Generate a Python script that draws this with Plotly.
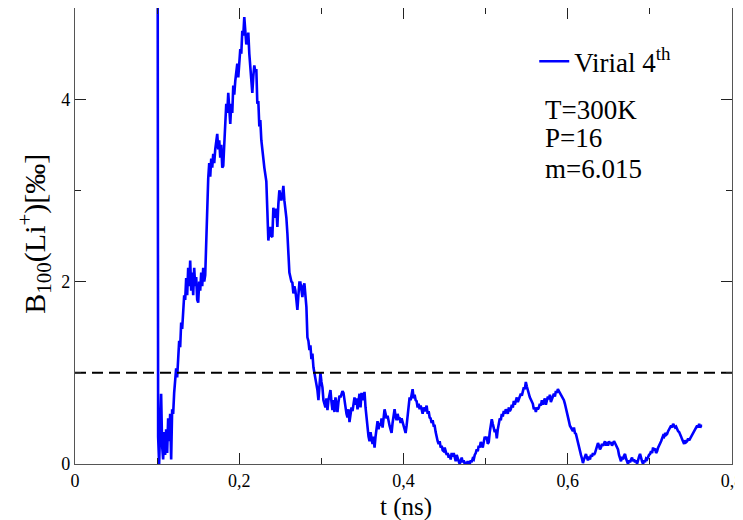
import plotly.graph_objects as go

# Time series: B100(Li+) sampled uniformly from t0 with step dt (ns)
t0 = 0.1
dt = 0.00122
b100 = [
    12.0, 0.3, 0.0, 0.45, 0.77, 0.2, 0.05, 0.35, 0.1, 0.38, 0.12, 0.5, 0.25, 0.55, 0.05,
    0.6, 0.55, 0.78, 0.9, 1.05, 0.95, 1.22, 1.35, 1.28, 1.55, 1.48, 1.72, 1.85, 1.8, 2.04,
    1.85, 2.15, 1.95, 2.23, 1.9, 2.1, 1.85, 2.15, 1.95, 2.05, 1.8, 1.77, 2.0, 1.9, 2.1,
    1.95, 2.15, 2.0, 2.07, 2.45, 2.9, 3.13, 3.3, 3.15, 3.35, 3.25, 3.4, 3.3, 3.45, 3.55,
    3.62, 3.45, 3.55, 3.36, 3.5, 3.25, 3.27, 3.5, 3.8, 3.95, 3.85, 4.07, 3.9, 3.73, 3.95,
    3.85, 4.15, 4.05, 4.2, 4.3, 4.39, 4.24, 4.45, 4.55, 4.5, 4.75, 4.7, 4.9, 4.75, 4.6,
    4.65, 4.73, 4.5, 4.35, 4.2, 4.07, 4.25, 4.37, 4.3, 4.33, 3.95, 3.98, 3.7, 3.77, 3.55,
    3.4, 3.35, 3.25, 3.15, 3.1, 2.78, 2.45, 2.55, 2.6, 2.5, 2.49, 2.81, 2.75, 2.7, 2.8,
    2.6, 2.85, 3.0, 2.95, 2.89, 2.95, 3.05, 2.89, 2.8, 2.7, 2.53, 2.23, 2.1, 2.05, 2.0,
    1.99, 1.87, 1.95, 1.9, 1.8, 1.69, 1.85, 1.99, 1.99, 1.9, 1.83, 1.95, 1.98, 1.85, 1.72,
    1.39, 1.35, 1.25, 1.3, 1.15, 1.21, 1.06, 1.0, 0.95, 0.88, 0.81, 0.7, 0.85, 1.0, 0.9,
    0.84, 0.7, 0.65, 0.62, 0.72, 0.59, 0.7, 0.75, 0.81, 0.68, 0.59, 0.7, 0.57, 0.73, 0.65,
    0.57, 0.68, 0.75, 0.73, 0.78, 0.8, 0.78, 0.68, 0.62, 0.55, 0.51, 0.6, 0.46, 0.55, 0.62,
    0.58, 0.7, 0.73, 0.65, 0.72, 0.6, 0.7, 0.77, 0.62, 0.78, 0.7, 0.75, 0.79, 0.62, 0.5,
    0.4, 0.3, 0.25, 0.35, 0.28, 0.22, 0.3, 0.18, 0.3, 0.38, 0.47, 0.38, 0.45, 0.42, 0.5,
    0.4, 0.52, 0.6, 0.55, 0.5, 0.53, 0.45, 0.42, 0.38, 0.34, 0.45, 0.55, 0.6, 0.52, 0.48,
    0.55, 0.5, 0.51, 0.45, 0.5, 0.46, 0.4, 0.38, 0.34, 0.42, 0.55, 0.65, 0.73, 0.7, 0.75,
    0.82, 0.72, 0.76, 0.7, 0.69, 0.62, 0.66, 0.6, 0.64, 0.6, 0.55, 0.62, 0.58, 0.6, 0.64,
    0.55, 0.58, 0.51, 0.5, 0.45, 0.48, 0.42, 0.42, 0.35, 0.28, 0.25, 0.22, 0.25, 0.18, 0.2,
    0.15, 0.14, 0.18, 0.12, 0.1, 0.12, 0.07, 0.1, 0.05, 0.12, 0.08, 0.12, 0.05, 0.03, 0.1,
    0.05, 0.03, 0.0, 0.05, 0.07, 0.02, 0.04, 0.0, 0.02, 0.0, 0.03, 0.0, 0.0, 0.04, 0.02,
    0.06, 0.05, 0.1, 0.12, 0.16, 0.14, 0.2, 0.18, 0.24, 0.22, 0.18, 0.25, 0.3, 0.27, 0.3,
    0.22, 0.24, 0.35, 0.42, 0.49, 0.44, 0.38, 0.35, 0.38, 0.28, 0.38, 0.45, 0.5, 0.48, 0.55,
    0.52, 0.58, 0.55, 0.6, 0.58, 0.55, 0.62, 0.58, 0.6, 0.65, 0.62, 0.69, 0.65, 0.7, 0.73,
    0.68, 0.72, 0.76, 0.77, 0.75, 0.8, 0.84, 0.82, 0.9, 0.85, 0.82, 0.77, 0.73, 0.7, 0.68,
    0.66, 0.6, 0.62, 0.57, 0.62, 0.6, 0.62, 0.66, 0.64, 0.7, 0.65, 0.69, 0.72, 0.65, 0.7,
    0.74, 0.71, 0.76, 0.68, 0.72, 0.75, 0.77, 0.74, 0.8, 0.78, 0.82, 0.8, 0.78, 0.77, 0.74,
    0.72, 0.7, 0.66, 0.62, 0.58, 0.52, 0.47, 0.42, 0.4, 0.38, 0.36, 0.4, 0.34, 0.33, 0.28,
    0.22, 0.18, 0.14, 0.1, 0.06, 0.01, 0.05, 0.08, 0.11, 0.07, 0.04, 0.08, 0.05, 0.1, 0.08,
    0.12, 0.1, 0.12, 0.16, 0.2, 0.23, 0.2, 0.16, 0.18, 0.22, 0.2, 0.23, 0.25, 0.2, 0.24,
    0.2, 0.25, 0.22, 0.24, 0.2, 0.22, 0.25, 0.23, 0.2, 0.18, 0.16, 0.1, 0.06, 0.03, 0.08,
    0.05, 0.09, 0.11, 0.06, 0.03, 0.0, 0.04, 0.02, 0.05, 0.07, 0.03, 0.05, 0.02, 0.04, 0.0,
    0.05, 0.08, 0.11, 0.06, 0.03, 0.0, 0.04, 0.02, 0.06, 0.05, 0.08, 0.1, 0.11, 0.14, 0.12,
    0.18, 0.15, 0.17, 0.12, 0.14, 0.18, 0.2, 0.22, 0.25, 0.28, 0.31, 0.3, 0.34, 0.32, 0.33,
    0.36, 0.38, 0.4, 0.42, 0.4, 0.44, 0.42, 0.4, 0.41, 0.38, 0.36, 0.35, 0.33, 0.3, 0.27,
    0.24, 0.22, 0.26, 0.24, 0.25, 0.28, 0.26, 0.28, 0.3, 0.32, 0.34, 0.36, 0.38, 0.4, 0.42,
    0.4, 0.44, 0.4, 0.42, 0.42,
]
t_ns = [t0 + i * dt for i in range(len(b100))]

reference_level = 1.0
x_range = [0, 0.8]
y_range = [0, 5]
series_name = "Virial 4<sup>th</sup>"
info_lines = ["T=300K", "P=16", "m=6.015"]
x_title = "t (ns)"
y_title = "B<sub>100</sub>(Li<sup>+</sup>)[‰]"

FONT = "Liberation Serif"

fig = go.Figure()
fig.add_trace(go.Scatter(
    x=t_ns, y=b100, mode="lines", name=series_name,
    line=dict(color="#0000ff", width=2.6),
))
fig.add_trace(go.Scatter(
    x=x_range, y=[reference_level, reference_level], mode="lines", showlegend=False,
    line=dict(color="black", width=2, dash="11px,6px"),
))

axis_common = dict(
    showgrid=False, zeroline=False, showline=True, linecolor="#555", linewidth=1.2,
    mirror="allticks", ticks="inside", ticklen=11, tickcolor="#222", tickwidth=1,
    tickfont=dict(family=FONT, size=18, color="black"), automargin=False,
    ticklabeloverflow="allow",
)
fig.update_xaxes(
    range=x_range, dtick=0.2, tick0=0,
    minor=dict(dtick=0.1, ticks="inside", ticklen=6, tickcolor="#222"),
    **axis_common,
)
fig.update_yaxes(
    range=y_range, dtick=2, tick0=0,
    minor=dict(dtick=1, ticks="inside", ticklen=6, tickcolor="#222"),
    **axis_common,
)

# axis titles
fig.add_annotation(
    x=0.504, y=-0.094, xref="paper", yref="paper", xanchor="center", yanchor="middle",
    text=x_title, showarrow=False, font=dict(family=FONT, size=25, color="black"),
)
fig.add_annotation(
    x=-0.061, y=0.505, xref="paper", yref="paper", xanchor="center", yanchor="middle",
    text=y_title, showarrow=False, textangle=-90,
    font=dict(family=FONT, size=30, color="black"),
)

for text, ypos in zip(info_lines, [0.777, 0.714, 0.648]):
    fig.add_annotation(
        x=0.712, y=ypos, xref="paper", yref="paper", xanchor="left", yanchor="middle",
        text=text, showarrow=False, align="left",
        font=dict(family=FONT, size=27, color="black"),
    )

fig.update_layout(
    width=735, height=512,
    margin=dict(l=67, r=11, t=0, b=56),
    plot_bgcolor="white", paper_bgcolor="white",
    separators=",.",
    showlegend=True,
    legend=dict(x=0.699, y=0.936, xanchor="left", yanchor="top",
                bgcolor="rgba(0,0,0,0)", font=dict(family=FONT, size=27, color="black"),
                itemwidth=30),
)

fig.write_html("out.html")
